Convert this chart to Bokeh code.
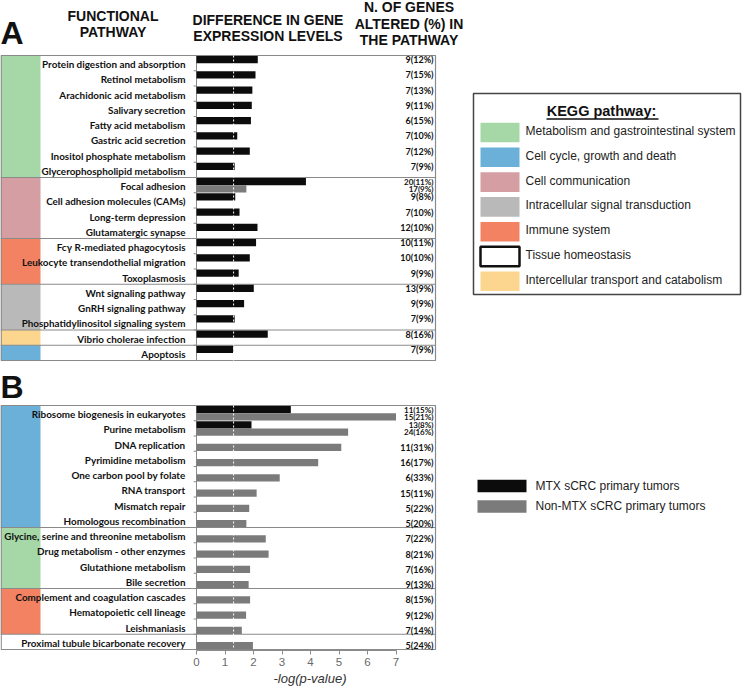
import math
from bokeh.plotting import figure
from bokeh.models import Range1d, FixedTicker, ColumnDataSource, Title
from bokeh.core.properties import value
from bokeh.embed import file_html
from bokeh.resources import INLINE

NAN = float("nan")

# ---------------- data ----------------
groups_legend = [
    "Metabolism and gastrointestinal system",
    "Cell cycle, growth and death",
    "Cell communication",
    "Intracellular signal transduction",
    "Immune system",
    "Tissue homeostasis",
    "Intercellular transport and catabolism",
]
group_colors = ["#a6d7a6", "#6bb0d8", "#d49ea3", "#b9b9b9", "#f28262", "#ffffff", "#fcd68e"]

a_pathways = [
    "Protein digestion and absorption", "Retinol metabolism", "Arachidonic acid metabolism",
    "Salivary secretion", "Fatty acid metabolism", "Gastric acid secretion",
    "Inositol phosphate metabolism", "Glycerophospholipid metabolism", "Focal adhesion",
    "Cell adhesion molecules (CAMs)", "Long-term depression", "Glutamatergic synapse",
    "Fcγ R-mediated phagocytosis", "Leukocyte transendothelial migration", "Toxoplasmosis",
    "Wnt signaling pathway", "GnRH signaling pathway", "Phosphatidylinositol signaling system",
    "Vibrio cholerae infection", "Apoptosis",
]
a_group = [0] * 8 + [2] * 4 + [4] * 3 + [3] * 3 + [6] + [1]
a_mtx = [2.15, 2.07, 1.96, 1.94, 1.91, 1.43, 1.87, 1.34, 3.84, 1.36,
         1.51, 2.14, 2.09, 1.87, 1.48, 2.01, 1.67, 1.34, 2.50, 1.29]
a_non = [NAN] * 8 + [1.75] + [NAN] * 11
a_genes_mtx = ["9(12%)", "7(15%)", "7(13%)", "9(11%)", "6(15%)", "7(10%)", "7(12%)", "7(9%)",
               "20(11%)", "9(8%)", "7(10%)", "12(10%)", "10(11%)", "10(10%)", "9(9%)",
               "13(9%)", "9(9%)", "7(9%)", "8(16%)", "7(9%)"]
a_genes_non = [""] * 8 + ["17(9%)"] + [""] * 11

b_pathways = [
    "Ribosome biogenesis in eukaryotes", "Purine metabolism", "DNA replication",
    "Pyrimidine metabolism", "One carbon pool by folate", "RNA transport", "Mismatch repair",
    "Homologous recombination", "Glycine, serine and threonine metabolism",
    "Drug metabolism - other enzymes", "Glutathione metabolism", "Bile secretion",
    "Complement and coagulation cascades", "Hematopoietic cell lineage", "Leishmaniasis",
    "Proximal tubule bicarbonate recovery",
]
b_group = [1] * 8 + [0] * 4 + [4] * 3 + [5]
b_mtx = [3.31, 1.93] + [NAN] * 14
b_non = [7.00, 5.32, 5.08, 4.27, 2.92, 2.11, 1.85, 1.75, 2.43, 2.53, 1.88, 1.83, 1.88, 1.74, 1.59, 1.98]
b_genes_mtx = ["11(15%)", "13(8%)"] + [""] * 14
b_genes_non = ["15(21%)", "24(16%)", "11(31%)", "16(17%)", "6(33%)", "15(11%)", "5(22%)", "5(20%)",
               "7(22%)", "8(21%)", "7(16%)", "9(13%)", "8(15%)", "9(12%)", "7(14%)", "5(24%)"]

series_names = ["MTX sCRC primary tumors", "Non-MTX sCRC primary tumors"]
series_colors = ["#0c0c0c", "#7b7b7b"]
threshold = -math.log10(0.05)
x_ticks = [0, 1, 2, 3, 4, 5, 6, 7]

# ---------------- layout (pixels) ----------------
W, H = 742, 686
ZERO_PX, UNIT_PX = 196.0, 28.5
A_TOP, A_ROW = 55.0, 15.25
B_TOP, B_ROW = 405.0, 15.25
FRAME_B = 650
COL_R, LABEL_X, BOX_R, GENES_X = 40, 185, 435, 433
LBL_FONT = value("Lato")
HDR_FONT = value("Liberation Sans")
BORDER = "#8a8a8a"

p = figure(width=W, height=H, output_backend="svg", toolbar_location=None,
           x_range=Range1d(-ZERO_PX / UNIT_PX, (W - ZERO_PX) / UNIT_PX),
           y_range=Range1d(FRAME_B, 0), y_axis_location=None,
           min_border_left=0, min_border_right=0, min_border_top=0,
           min_border_bottom=H - FRAME_B)
p.extra_x_ranges = {"px": Range1d(0, W)}
p.outline_line_color = None
p.xgrid.visible = False
p.ygrid.visible = False


def runs(groups):
    out, start = [], 0
    for i in range(1, len(groups) + 1):
        if i == len(groups) or groups[i] != groups[start]:
            out.append((groups[start], start, i))
            start = i
    return out


def panel(names, grp, mtx, non, g_mtx, g_non, top, row):
    n = len(names)
    bottom = top + n * row
    centers = [top + row * (i + 0.5) for i in range(n)]
    rr = runs(grp)
    p.quad(left=[0] * len(rr), right=[COL_R] * len(rr),
           top=[top + s * row for _, s, _ in rr], bottom=[top + e * row for _, _, e in rr],
           fill_color=[group_colors[g] for g, _, _ in rr], line_color=None, x_range_name="px")
    ys = [top + e * row for _, _, e in rr[:-1]]
    p.segment(x0=[0] * len(ys), x1=[BOX_R] * len(ys), y0=ys, y1=ys,
              line_color=BORDER, line_width=1, x_range_name="px")
    p.quad(left=[0.7], right=[BOX_R], top=[top], bottom=[bottom], fill_color=None,
           line_color=BORDER, line_width=1.2, x_range_name="px")
    bnds = [top + row * i for i in range(1, n)]
    p.segment(x0=[0], x1=[0], y0=[top], y1=[bottom], line_color=BORDER)
    p.segment(x0=[-0.1] * len(bnds), x1=[0] * len(bnds), y0=bnds, y1=bnds, line_color=BORDER)
    for vals, off, col in ((mtx, -3.6, series_colors[0]), (non, 3.8, series_colors[1])):
        idx = [i for i, v in enumerate(vals) if not math.isnan(v)]
        src = ColumnDataSource(dict(y=[centers[i] + off for i in idx], r=[vals[i] for i in idx]))
        p.hbar(y="y", left=0, right="r", height=7.2, source=src, fill_color=col, line_color=None)
    p.segment(x0=[threshold], x1=[threshold], y0=[top], y1=[bottom],
              line_color="white", line_width=1, line_dash="2 2")
    p.text(x=[LABEL_X] * n, y=[c + 1 for c in centers], text=names, x_range_name="px",
           text_align="right", text_baseline="middle", text_font=LBL_FONT,
           text_font_style="bold", text_font_size="9.9px", text_color="#111111")
    for i in range(n):
        both = bool(g_mtx[i]) and bool(g_non[i])
        fs = "8px" if both else "9px"
        for lab, off in ((g_mtx[i], -3.6), (g_non[i], 3.8)):
            if lab:
                p.text(x=[GENES_X], y=[centers[i] + off], text=[lab], x_range_name="px",
                       text_align="right", text_baseline="middle", text_font=LBL_FONT,
                       text_font_style="bold", text_font_size=fs, text_color="#111111")


panel(a_pathways, a_group, a_mtx, a_non, a_genes_mtx, a_genes_non, A_TOP, A_ROW)
panel(b_pathways, b_group, b_mtx, b_non, b_genes_mtx, b_genes_non, B_TOP, B_ROW)


def txt(x, y, s, size, align="center", style="bold", font=HDR_FONT, color="#111111"):
    p.text(x=[x], y=[y], text=[s], x_range_name="px", text_align=align,
           text_baseline="middle", text_font=font, text_font_style=style,
           text_font_size=size, text_color=color)


# ---------------- headers ----------------
txt(0, 32.5, "A", "32px", align="left")
txt(0, 386, "B", "32px", align="left")
txt(112.5, 15.5, "FUNCTIONAL", "14px")
txt(112.5, 31.5, "PATHWAY", "14px")
txt(267.5, 19, "DIFFERENCE IN GENE", "14px")
txt(267.5, 35, "EXPRESSION LEVELS", "14px")
txt(408.5, 6.5, "N. OF GENES", "14px")
txt(408.5, 23, "ALTERED (%) IN", "14px")
txt(408.5, 39, "THE PATHWAY", "14px")

# ---------------- KEGG legend ----------------
p.quad(left=[473], right=[740], top=[93], bottom=[294], fill_color="white",
       line_color="#444444", line_width=1.5, x_range_name="px")
txt(601, 110, "KEGG pathway:", "14.5px")
p.segment(x0=[546], x1=[658], y0=[118.5], y1=[118.5], line_color="#111111", line_width=1.3,
          x_range_name="px")
ly = [132 + 24.8 * i for i in range(len(groups_legend))]
p.quad(left=[480] * len(ly), right=[519] * len(ly), top=[y - 9.8 for y in ly],
       bottom=[y + 9.8 for y in ly], fill_color=group_colors,
       line_color=["#111111" if c == "#ffffff" else None for c in group_colors],
       line_width=2.5, x_range_name="px")
p.text(x=[525] * len(ly), y=[y - 1.5 for y in ly], text=groups_legend, x_range_name="px",
       text_align="left", text_baseline="middle", text_font=HDR_FONT,
       text_font_size="12px", text_color="#222222")

# ---------------- series legend ----------------
sy = [485.5, 506]
p.quad(left=[477] * 2, right=[526] * 2, top=[y - 6.2 for y in sy], bottom=[y + 6.2 for y in sy],
       fill_color=series_colors, line_color=None, x_range_name="px")
p.text(x=[535] * 2, y=[y - 0.5 for y in sy], text=series_names, x_range_name="px",
       text_align="left", text_baseline="middle", text_font=HDR_FONT,
       text_font_size="12px", text_color="#222222")

# ---------------- x axis ----------------
ax = p.xaxis[0]
ax.bounds = (0, 7)
ax.ticker = FixedTicker(ticks=x_ticks)
ax.axis_line_color = BORDER
ax.major_tick_line_color = BORDER
ax.major_tick_out = 4
ax.major_tick_in = 0
ax.minor_tick_line_color = None
ax.major_label_standoff = 3
ax.major_label_text_font = "Liberation Sans"
ax.major_label_text_font_size = "11.5px"
ax.major_label_text_color = "#6a6a6a"

xlabel = Title(text="-log(p-value)", align="left", offset=273, standoff=0,
               text_font="Liberation Sans", text_font_style="italic",
               text_font_size="13px", text_color="#333333")
p.add_layout(xlabel, "below")

open("out.html", "w").write(file_html(p, INLINE))
